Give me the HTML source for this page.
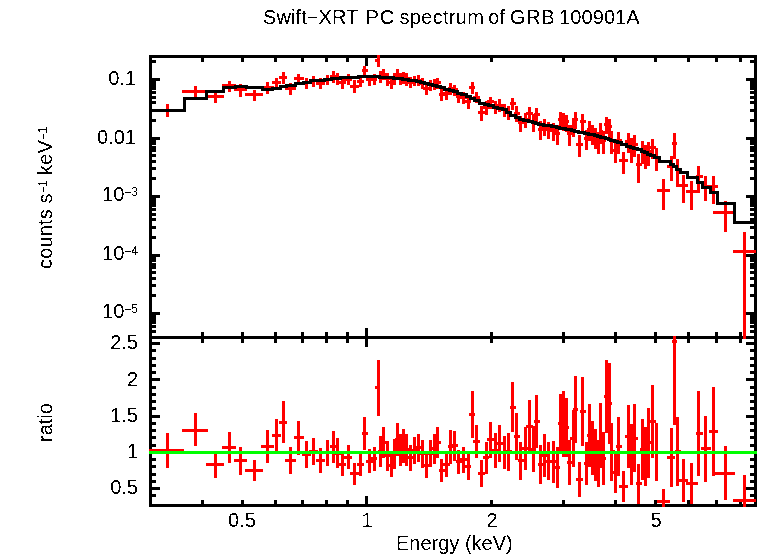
<!DOCTYPE html>
<html><head><meta charset="utf-8"><title>Swift-XRT PC spectrum of GRB 100901A</title>
<style>
html,body{margin:0;padding:0;background:#fff;}
body{width:758px;height:556px;position:relative;overflow:hidden;font-family:"Liberation Sans",sans-serif;color:#000;}
svg{position:absolute;left:0;top:0;}
.t{filter:url(#thr);position:absolute;white-space:pre;font-size:20px;line-height:20px;}
.r{text-align:right;width:100px;}
.c{text-align:center;width:100px;}
sup{font-size:12px;line-height:0;vertical-align:baseline;position:relative;top:-5px;}
.v{transform-origin:0 0;transform:rotate(-90deg);}
</style></head><body>
<svg width="758" height="556" viewBox="0 0 758 556" shape-rendering="crispEdges">
<defs><filter id="thr" x="0" y="0" width="100%" height="100%" color-interpolation-filters="sRGB"><feComponentTransfer><feFuncA type="discrete" tableValues="0 1"/></feComponentTransfer></filter></defs>
<g fill="#000"><rect x="149" y="55" width="608" height="3"/><rect x="149" y="336" width="608" height="3"/><rect x="149" y="504" width="608" height="3"/><rect x="149" y="55" width="3" height="452"/><rect x="754" y="55" width="3" height="452"/><rect x="201" y="58" width="3" height="4"/><rect x="201" y="332" width="3" height="4"/><rect x="201" y="339" width="3" height="4"/><rect x="201" y="500" width="3" height="4"/><rect x="241" y="58" width="3" height="4"/><rect x="241" y="332" width="3" height="4"/><rect x="241" y="339" width="3" height="4"/><rect x="241" y="500" width="3" height="4"/><rect x="274" y="58" width="3" height="4"/><rect x="274" y="332" width="3" height="4"/><rect x="274" y="339" width="3" height="4"/><rect x="274" y="500" width="3" height="4"/><rect x="301" y="58" width="3" height="4"/><rect x="301" y="332" width="3" height="4"/><rect x="301" y="339" width="3" height="4"/><rect x="301" y="500" width="3" height="4"/><rect x="325" y="58" width="3" height="4"/><rect x="325" y="332" width="3" height="4"/><rect x="325" y="339" width="3" height="4"/><rect x="325" y="500" width="3" height="4"/><rect x="346" y="58" width="3" height="4"/><rect x="346" y="332" width="3" height="4"/><rect x="346" y="339" width="3" height="4"/><rect x="346" y="500" width="3" height="4"/><rect x="365" y="58" width="3" height="8"/><rect x="365" y="328" width="3" height="8"/><rect x="365" y="339" width="3" height="8"/><rect x="365" y="496" width="3" height="8"/><rect x="490" y="58" width="3" height="4"/><rect x="490" y="332" width="3" height="4"/><rect x="490" y="339" width="3" height="4"/><rect x="490" y="500" width="3" height="4"/><rect x="562" y="58" width="3" height="4"/><rect x="562" y="332" width="3" height="4"/><rect x="562" y="339" width="3" height="4"/><rect x="562" y="500" width="3" height="4"/><rect x="614" y="58" width="3" height="4"/><rect x="614" y="332" width="3" height="4"/><rect x="614" y="339" width="3" height="4"/><rect x="614" y="500" width="3" height="4"/><rect x="654" y="58" width="3" height="4"/><rect x="654" y="332" width="3" height="4"/><rect x="654" y="339" width="3" height="4"/><rect x="654" y="500" width="3" height="4"/><rect x="687" y="58" width="3" height="4"/><rect x="687" y="332" width="3" height="4"/><rect x="687" y="339" width="3" height="4"/><rect x="687" y="500" width="3" height="4"/><rect x="715" y="58" width="3" height="4"/><rect x="715" y="332" width="3" height="4"/><rect x="715" y="339" width="3" height="4"/><rect x="715" y="500" width="3" height="4"/><rect x="739" y="58" width="3" height="4"/><rect x="739" y="332" width="3" height="4"/><rect x="739" y="339" width="3" height="4"/><rect x="739" y="500" width="3" height="4"/><rect x="152" y="330" width="4" height="3"/><rect x="750" y="330" width="4" height="3"/><rect x="152" y="325" width="4" height="3"/><rect x="750" y="325" width="4" height="3"/><rect x="152" y="321" width="4" height="3"/><rect x="750" y="321" width="4" height="3"/><rect x="152" y="318" width="4" height="3"/><rect x="750" y="318" width="4" height="3"/><rect x="152" y="315" width="4" height="3"/><rect x="750" y="315" width="4" height="3"/><rect x="152" y="312" width="8" height="3"/><rect x="746" y="312" width="8" height="3"/><rect x="152" y="294" width="4" height="3"/><rect x="750" y="294" width="4" height="3"/><rect x="152" y="284" width="4" height="3"/><rect x="750" y="284" width="4" height="3"/><rect x="152" y="277" width="4" height="3"/><rect x="750" y="277" width="4" height="3"/><rect x="152" y="271" width="4" height="3"/><rect x="750" y="271" width="4" height="3"/><rect x="152" y="266" width="4" height="3"/><rect x="750" y="266" width="4" height="3"/><rect x="152" y="263" width="4" height="3"/><rect x="750" y="263" width="4" height="3"/><rect x="152" y="259" width="4" height="3"/><rect x="750" y="259" width="4" height="3"/><rect x="152" y="256" width="4" height="3"/><rect x="750" y="256" width="4" height="3"/><rect x="152" y="254" width="8" height="3"/><rect x="746" y="254" width="8" height="3"/><rect x="152" y="236" width="4" height="3"/><rect x="750" y="236" width="4" height="3"/><rect x="152" y="226" width="4" height="3"/><rect x="750" y="226" width="4" height="3"/><rect x="152" y="218" width="4" height="3"/><rect x="750" y="218" width="4" height="3"/><rect x="152" y="213" width="4" height="3"/><rect x="750" y="213" width="4" height="3"/><rect x="152" y="208" width="4" height="3"/><rect x="750" y="208" width="4" height="3"/><rect x="152" y="204" width="4" height="3"/><rect x="750" y="204" width="4" height="3"/><rect x="152" y="201" width="4" height="3"/><rect x="750" y="201" width="4" height="3"/><rect x="152" y="198" width="4" height="3"/><rect x="750" y="198" width="4" height="3"/><rect x="152" y="195" width="8" height="3"/><rect x="746" y="195" width="8" height="3"/><rect x="152" y="177" width="4" height="3"/><rect x="750" y="177" width="4" height="3"/><rect x="152" y="167" width="4" height="3"/><rect x="750" y="167" width="4" height="3"/><rect x="152" y="160" width="4" height="3"/><rect x="750" y="160" width="4" height="3"/><rect x="152" y="154" width="4" height="3"/><rect x="750" y="154" width="4" height="3"/><rect x="152" y="149" width="4" height="3"/><rect x="750" y="149" width="4" height="3"/><rect x="152" y="146" width="4" height="3"/><rect x="750" y="146" width="4" height="3"/><rect x="152" y="142" width="4" height="3"/><rect x="750" y="142" width="4" height="3"/><rect x="152" y="139" width="4" height="3"/><rect x="750" y="139" width="4" height="3"/><rect x="152" y="137" width="8" height="3"/><rect x="746" y="137" width="8" height="3"/><rect x="152" y="119" width="4" height="3"/><rect x="750" y="119" width="4" height="3"/><rect x="152" y="109" width="4" height="3"/><rect x="750" y="109" width="4" height="3"/><rect x="152" y="101" width="4" height="3"/><rect x="750" y="101" width="4" height="3"/><rect x="152" y="96" width="4" height="3"/><rect x="750" y="96" width="4" height="3"/><rect x="152" y="91" width="4" height="3"/><rect x="750" y="91" width="4" height="3"/><rect x="152" y="87" width="4" height="3"/><rect x="750" y="87" width="4" height="3"/><rect x="152" y="84" width="4" height="3"/><rect x="750" y="84" width="4" height="3"/><rect x="152" y="81" width="4" height="3"/><rect x="750" y="81" width="4" height="3"/><rect x="152" y="78" width="8" height="3"/><rect x="746" y="78" width="8" height="3"/><rect x="152" y="60" width="4" height="3"/><rect x="750" y="60" width="4" height="3"/><rect x="152" y="494" width="4" height="3"/><rect x="750" y="494" width="4" height="3"/><rect x="152" y="487" width="8" height="3"/><rect x="746" y="487" width="8" height="3"/><rect x="152" y="480" width="4" height="3"/><rect x="750" y="480" width="4" height="3"/><rect x="152" y="473" width="4" height="3"/><rect x="750" y="473" width="4" height="3"/><rect x="152" y="465" width="4" height="3"/><rect x="750" y="465" width="4" height="3"/><rect x="152" y="458" width="4" height="3"/><rect x="750" y="458" width="4" height="3"/><rect x="152" y="451" width="8" height="3"/><rect x="746" y="451" width="8" height="3"/><rect x="152" y="444" width="4" height="3"/><rect x="750" y="444" width="4" height="3"/><rect x="152" y="436" width="4" height="3"/><rect x="750" y="436" width="4" height="3"/><rect x="152" y="429" width="4" height="3"/><rect x="750" y="429" width="4" height="3"/><rect x="152" y="422" width="4" height="3"/><rect x="750" y="422" width="4" height="3"/><rect x="152" y="415" width="8" height="3"/><rect x="746" y="415" width="8" height="3"/><rect x="152" y="407" width="4" height="3"/><rect x="750" y="407" width="4" height="3"/><rect x="152" y="400" width="4" height="3"/><rect x="750" y="400" width="4" height="3"/><rect x="152" y="393" width="4" height="3"/><rect x="750" y="393" width="4" height="3"/><rect x="152" y="386" width="4" height="3"/><rect x="750" y="386" width="4" height="3"/><rect x="152" y="378" width="8" height="3"/><rect x="746" y="378" width="8" height="3"/><rect x="152" y="371" width="4" height="3"/><rect x="750" y="371" width="4" height="3"/><rect x="152" y="364" width="4" height="3"/><rect x="750" y="364" width="4" height="3"/><rect x="152" y="357" width="4" height="3"/><rect x="750" y="357" width="4" height="3"/><rect x="152" y="349" width="4" height="3"/><rect x="750" y="349" width="4" height="3"/><rect x="152" y="342" width="8" height="3"/><rect x="746" y="342" width="8" height="3"/></g>
<g fill="#f00"><rect x="149" y="109" width="35" height="3"/><rect x="166" y="104" width="3" height="13"/><rect x="182" y="90" width="26" height="3"/><rect x="194" y="86" width="3" height="11"/><rect x="206" y="95" width="18" height="3"/><rect x="214" y="91" width="3" height="12"/><rect x="222" y="84" width="14" height="3"/><rect x="228" y="81" width="3" height="11"/><rect x="234" y="88" width="13" height="3"/><rect x="239" y="84" width="3" height="13"/><rect x="245" y="93" width="18" height="3"/><rect x="253" y="90" width="3" height="11"/><rect x="261" y="86" width="13" height="3"/><rect x="266" y="82" width="3" height="12"/><rect x="272" y="81" width="9" height="3"/><rect x="275" y="78" width="3" height="10"/><rect x="279" y="76" width="8" height="3"/><rect x="282" y="72" width="3" height="12"/><rect x="285" y="87" width="11" height="3"/><rect x="289" y="83" width="3" height="12"/><rect x="294" y="77" width="10" height="3"/><rect x="297" y="74" width="3" height="11"/><rect x="302" y="81" width="9" height="3"/><rect x="305" y="78" width="3" height="11"/><rect x="309" y="79" width="9" height="3"/><rect x="312" y="76" width="3" height="11"/><rect x="316" y="82" width="9" height="3"/><rect x="319" y="78" width="3" height="11"/><rect x="323" y="78" width="9" height="3"/><rect x="326" y="75" width="3" height="10"/><rect x="330" y="75" width="6" height="3"/><rect x="332" y="71" width="3" height="12"/><rect x="334" y="77" width="7" height="3"/><rect x="336" y="73" width="3" height="12"/><rect x="339" y="81" width="7" height="3"/><rect x="341" y="77" width="3" height="12"/><rect x="344" y="78" width="8" height="3"/><rect x="347" y="74" width="3" height="11"/><rect x="350" y="85" width="9" height="3"/><rect x="353" y="80" width="3" height="13"/><rect x="357" y="80" width="7" height="3"/><rect x="359" y="77" width="3" height="10"/><rect x="362" y="69" width="6" height="3"/><rect x="363" y="66" width="3" height="10"/><rect x="366" y="78" width="7" height="3"/><rect x="368" y="75" width="3" height="11"/><rect x="371" y="78" width="6" height="3"/><rect x="373" y="74" width="3" height="11"/><rect x="375" y="59" width="5" height="3"/><rect x="377" y="55" width="3" height="12"/><rect x="378" y="75" width="5" height="3"/><rect x="379" y="71" width="3" height="12"/><rect x="381" y="73" width="5" height="3"/><rect x="382" y="69" width="3" height="11"/><rect x="384" y="77" width="6" height="3"/><rect x="386" y="73" width="3" height="13"/><rect x="388" y="81" width="6" height="3"/><rect x="390" y="78" width="3" height="11"/><rect x="392" y="77" width="5" height="3"/><rect x="393" y="73" width="3" height="12"/><rect x="395" y="73" width="5" height="3"/><rect x="396" y="69" width="3" height="11"/><rect x="398" y="77" width="5" height="3"/><rect x="399" y="73" width="3" height="12"/><rect x="401" y="76" width="5" height="3"/><rect x="402" y="72" width="3" height="12"/><rect x="404" y="77" width="5" height="3"/><rect x="405" y="73" width="3" height="13"/><rect x="407" y="81" width="7" height="3"/><rect x="409" y="77" width="3" height="11"/><rect x="412" y="79" width="6" height="3"/><rect x="413" y="76" width="3" height="10"/><rect x="416" y="79" width="5" height="3"/><rect x="417" y="75" width="3" height="11"/><rect x="419" y="82" width="6" height="3"/><rect x="421" y="78" width="3" height="11"/><rect x="423" y="87" width="7" height="3"/><rect x="425" y="84" width="3" height="11"/><rect x="428" y="83" width="6" height="3"/><rect x="429" y="80" width="3" height="11"/><rect x="432" y="83" width="5" height="3"/><rect x="433" y="79" width="3" height="11"/><rect x="435" y="81" width="6" height="3"/><rect x="436" y="78" width="3" height="11"/><rect x="439" y="93" width="6" height="3"/><rect x="440" y="89" width="3" height="12"/><rect x="443" y="92" width="7" height="3"/><rect x="445" y="88" width="3" height="12"/><rect x="448" y="87" width="6" height="3"/><rect x="449" y="83" width="3" height="12"/><rect x="452" y="88" width="6" height="3"/><rect x="453" y="85" width="3" height="11"/><rect x="456" y="95" width="6" height="3"/><rect x="457" y="92" width="3" height="11"/><rect x="460" y="96" width="7" height="3"/><rect x="462" y="92" width="3" height="12"/><rect x="465" y="100" width="6" height="3"/><rect x="467" y="96" width="3" height="13"/><rect x="469" y="86" width="6" height="3"/><rect x="471" y="82" width="3" height="12"/><rect x="473" y="96" width="7" height="3"/><rect x="475" y="92" width="3" height="11"/><rect x="478" y="111" width="7" height="3"/><rect x="480" y="106" width="3" height="15"/><rect x="483" y="106" width="6" height="3"/><rect x="485" y="101" width="3" height="14"/><rect x="487" y="100" width="7" height="3"/><rect x="489" y="97" width="3" height="12"/><rect x="492" y="105" width="6" height="3"/><rect x="494" y="101" width="3" height="13"/><rect x="496" y="104" width="7" height="3"/><rect x="498" y="99" width="3" height="13"/><rect x="501" y="108" width="7" height="3"/><rect x="503" y="104" width="3" height="13"/><rect x="506" y="111" width="6" height="3"/><rect x="507" y="106" width="3" height="14"/><rect x="510" y="102" width="6" height="3"/><rect x="511" y="98" width="3" height="12"/><rect x="514" y="112" width="6" height="3"/><rect x="515" y="106" width="3" height="16"/><rect x="518" y="121" width="6" height="3"/><rect x="519" y="116" width="3" height="16"/><rect x="522" y="118" width="6" height="3"/><rect x="524" y="113" width="3" height="15"/><rect x="526" y="112" width="7" height="3"/><rect x="528" y="107" width="3" height="16"/><rect x="531" y="120" width="5" height="3"/><rect x="532" y="114" width="3" height="18"/><rect x="534" y="113" width="6" height="3"/><rect x="535" y="108" width="3" height="15"/><rect x="538" y="128" width="6" height="3"/><rect x="539" y="121" width="3" height="19"/><rect x="542" y="125" width="6" height="3"/><rect x="543" y="119" width="3" height="17"/><rect x="546" y="128" width="6" height="3"/><rect x="547" y="122" width="3" height="17"/><rect x="550" y="129" width="7" height="3"/><rect x="552" y="123" width="3" height="18"/><rect x="555" y="132" width="5" height="3"/><rect x="556" y="125" width="3" height="20"/><rect x="558" y="118" width="5" height="3"/><rect x="559" y="112" width="3" height="17"/><rect x="561" y="119" width="5" height="3"/><rect x="562" y="113" width="3" height="18"/><rect x="564" y="120" width="5" height="3"/><rect x="565" y="115" width="3" height="17"/><rect x="567" y="132" width="5" height="3"/><rect x="568" y="125" width="3" height="21"/><rect x="570" y="125" width="5" height="3"/><rect x="572" y="118" width="3" height="19"/><rect x="573" y="118" width="5" height="3"/><rect x="574" y="112" width="3" height="17"/><rect x="576" y="143" width="7" height="3"/><rect x="578" y="135" width="3" height="22"/><rect x="580" y="120" width="6" height="3"/><rect x="581" y="114" width="3" height="17"/><rect x="584" y="137" width="5" height="3"/><rect x="585" y="130" width="3" height="20"/><rect x="587" y="128" width="5" height="3"/><rect x="588" y="121" width="3" height="20"/><rect x="590" y="132" width="5" height="3"/><rect x="591" y="125" width="3" height="20"/><rect x="593" y="135" width="5" height="3"/><rect x="594" y="128" width="3" height="21"/><rect x="596" y="139" width="5" height="3"/><rect x="597" y="132" width="3" height="22"/><rect x="599" y="130" width="4" height="3"/><rect x="599" y="123" width="3" height="21"/><rect x="601" y="139" width="5" height="3"/><rect x="602" y="131" width="3" height="23"/><rect x="604" y="123" width="5" height="3"/><rect x="605" y="117" width="3" height="17"/><rect x="607" y="125" width="5" height="3"/><rect x="608" y="119" width="3" height="19"/><rect x="610" y="139" width="5" height="3"/><rect x="610" y="131" width="3" height="23"/><rect x="613" y="149" width="5" height="3"/><rect x="614" y="141" width="3" height="22"/><rect x="616" y="139" width="6" height="3"/><rect x="617" y="132" width="3" height="22"/><rect x="619" y="159" width="9" height="3"/><rect x="622" y="152" width="3" height="22"/><rect x="625" y="140" width="6" height="3"/><rect x="627" y="133" width="3" height="20"/><rect x="629" y="147" width="5" height="3"/><rect x="630" y="138" width="3" height="25"/><rect x="632" y="143" width="6" height="3"/><rect x="633" y="135" width="3" height="22"/><rect x="636" y="163" width="6" height="3"/><rect x="637" y="154" width="3" height="29"/><rect x="640" y="149" width="5" height="3"/><rect x="641" y="141" width="3" height="23"/><rect x="643" y="153" width="5" height="3"/><rect x="644" y="145" width="3" height="24"/><rect x="646" y="150" width="6" height="3"/><rect x="647" y="142" width="3" height="24"/><rect x="650" y="146" width="6" height="3"/><rect x="651" y="139" width="3" height="20"/><rect x="654" y="156" width="6" height="3"/><rect x="655" y="148" width="3" height="23"/><rect x="657" y="189" width="13" height="3"/><rect x="662" y="179" width="3" height="31"/><rect x="667" y="165" width="8" height="3"/><rect x="670" y="156" width="3" height="25"/><rect x="672" y="142" width="5" height="3"/><rect x="673" y="133" width="3" height="26"/><rect x="675" y="168" width="6" height="3"/><rect x="676" y="159" width="3" height="28"/><rect x="679" y="184" width="9" height="3"/><rect x="682" y="175" width="3" height="28"/><rect x="686" y="190" width="12" height="3"/><rect x="690" y="181" width="3" height="29"/><rect x="696" y="175" width="7" height="3"/><rect x="697" y="166" width="3" height="27"/><rect x="701" y="185" width="10" height="3"/><rect x="704" y="176" width="3" height="25"/><rect x="709" y="185" width="9" height="3"/><rect x="712" y="176" width="3" height="28"/><rect x="713" y="211" width="22" height="3"/><rect x="724" y="201" width="3" height="31"/><rect x="733" y="250" width="23" height="3"/><rect x="743" y="232" width="3" height="107"/><rect x="149" y="449" width="35" height="3"/><rect x="166" y="433" width="3" height="35"/><rect x="182" y="429" width="26" height="3"/><rect x="194" y="413" width="3" height="33"/><rect x="206" y="463" width="18" height="3"/><rect x="214" y="451" width="3" height="27"/><rect x="222" y="446" width="14" height="3"/><rect x="228" y="432" width="3" height="31"/><rect x="234" y="459" width="13" height="3"/><rect x="239" y="447" width="3" height="28"/><rect x="245" y="469" width="18" height="3"/><rect x="253" y="460" width="3" height="21"/><rect x="261" y="445" width="13" height="3"/><rect x="266" y="430" width="3" height="33"/><rect x="272" y="434" width="9" height="3"/><rect x="275" y="419" width="3" height="32"/><rect x="279" y="421" width="8" height="3"/><rect x="282" y="401" width="3" height="42"/><rect x="285" y="459" width="11" height="3"/><rect x="289" y="447" width="3" height="27"/><rect x="294" y="436" width="10" height="3"/><rect x="297" y="421" width="3" height="34"/><rect x="302" y="453" width="9" height="3"/><rect x="305" y="441" width="3" height="27"/><rect x="309" y="450" width="9" height="3"/><rect x="312" y="438" width="3" height="27"/><rect x="316" y="459" width="9" height="3"/><rect x="319" y="448" width="3" height="25"/><rect x="323" y="451" width="9" height="3"/><rect x="326" y="440" width="3" height="26"/><rect x="330" y="445" width="6" height="3"/><rect x="332" y="431" width="3" height="32"/><rect x="334" y="452" width="7" height="3"/><rect x="336" y="438" width="3" height="30"/><rect x="339" y="463" width="7" height="3"/><rect x="341" y="452" width="3" height="24"/><rect x="344" y="456" width="8" height="3"/><rect x="347" y="445" width="3" height="24"/><rect x="350" y="472" width="9" height="3"/><rect x="353" y="463" width="3" height="22"/><rect x="357" y="463" width="7" height="3"/><rect x="359" y="454" width="3" height="22"/><rect x="362" y="432" width="6" height="3"/><rect x="363" y="417" width="3" height="33"/><rect x="366" y="460" width="7" height="3"/><rect x="368" y="449" width="3" height="24"/><rect x="371" y="457" width="6" height="3"/><rect x="373" y="447" width="3" height="24"/><rect x="375" y="386" width="5" height="3"/><rect x="377" y="360" width="3" height="56"/><rect x="378" y="450" width="5" height="3"/><rect x="379" y="436" width="3" height="31"/><rect x="381" y="441" width="5" height="3"/><rect x="382" y="427" width="3" height="31"/><rect x="384" y="454" width="6" height="3"/><rect x="386" y="441" width="3" height="30"/><rect x="388" y="464" width="6" height="3"/><rect x="390" y="454" width="3" height="23"/><rect x="392" y="452" width="5" height="3"/><rect x="393" y="439" width="3" height="30"/><rect x="395" y="438" width="5" height="3"/><rect x="396" y="423" width="3" height="33"/><rect x="398" y="448" width="5" height="3"/><rect x="399" y="434" width="3" height="32"/><rect x="401" y="444" width="5" height="3"/><rect x="402" y="429" width="3" height="34"/><rect x="404" y="448" width="5" height="3"/><rect x="405" y="434" width="3" height="32"/><rect x="407" y="456" width="7" height="3"/><rect x="409" y="445" width="3" height="26"/><rect x="412" y="449" width="6" height="3"/><rect x="413" y="437" width="3" height="27"/><rect x="416" y="446" width="5" height="3"/><rect x="417" y="434" width="3" height="28"/><rect x="419" y="452" width="6" height="3"/><rect x="421" y="440" width="3" height="28"/><rect x="423" y="464" width="7" height="3"/><rect x="425" y="454" width="3" height="24"/><rect x="428" y="452" width="6" height="3"/><rect x="429" y="440" width="3" height="27"/><rect x="432" y="447" width="5" height="3"/><rect x="433" y="434" width="3" height="30"/><rect x="435" y="441" width="6" height="3"/><rect x="436" y="427" width="3" height="31"/><rect x="439" y="469" width="6" height="3"/><rect x="440" y="459" width="3" height="23"/><rect x="443" y="463" width="7" height="3"/><rect x="445" y="452" width="3" height="25"/><rect x="448" y="445" width="6" height="3"/><rect x="449" y="430" width="3" height="34"/><rect x="452" y="444" width="6" height="3"/><rect x="453" y="431" width="3" height="30"/><rect x="456" y="460" width="6" height="3"/><rect x="457" y="450" width="3" height="24"/><rect x="460" y="458" width="7" height="3"/><rect x="462" y="447" width="3" height="26"/><rect x="465" y="465" width="6" height="3"/><rect x="467" y="453" width="3" height="27"/><rect x="469" y="413" width="6" height="3"/><rect x="471" y="391" width="3" height="47"/><rect x="473" y="440" width="7" height="3"/><rect x="475" y="425" width="3" height="33"/><rect x="478" y="472" width="7" height="3"/><rect x="480" y="460" width="3" height="27"/><rect x="483" y="456" width="6" height="3"/><rect x="485" y="442" width="3" height="32"/><rect x="487" y="438" width="7" height="3"/><rect x="489" y="422" width="3" height="36"/><rect x="492" y="449" width="6" height="3"/><rect x="494" y="433" width="3" height="35"/><rect x="496" y="442" width="7" height="3"/><rect x="498" y="425" width="3" height="37"/><rect x="501" y="451" width="7" height="3"/><rect x="503" y="436" width="3" height="33"/><rect x="506" y="450" width="6" height="3"/><rect x="507" y="433" width="3" height="38"/><rect x="510" y="406" width="6" height="3"/><rect x="511" y="382" width="3" height="50"/><rect x="514" y="435" width="6" height="3"/><rect x="515" y="413" width="3" height="47"/><rect x="518" y="459" width="6" height="3"/><rect x="519" y="442" width="3" height="38"/><rect x="522" y="447" width="6" height="3"/><rect x="524" y="427" width="3" height="43"/><rect x="526" y="425" width="7" height="3"/><rect x="528" y="400" width="3" height="53"/><rect x="531" y="448" width="5" height="3"/><rect x="532" y="426" width="3" height="46"/><rect x="534" y="420" width="6" height="3"/><rect x="535" y="395" width="3" height="53"/><rect x="538" y="463" width="6" height="3"/><rect x="539" y="445" width="3" height="39"/><rect x="542" y="454" width="6" height="3"/><rect x="543" y="434" width="3" height="43"/><rect x="546" y="460" width="6" height="3"/><rect x="547" y="442" width="3" height="38"/><rect x="550" y="460" width="7" height="3"/><rect x="552" y="441" width="3" height="42"/><rect x="555" y="466" width="5" height="3"/><rect x="556" y="447" width="3" height="41"/><rect x="558" y="422" width="5" height="3"/><rect x="559" y="394" width="3" height="58"/><rect x="561" y="422" width="5" height="3"/><rect x="562" y="391" width="3" height="66"/><rect x="564" y="426" width="5" height="3"/><rect x="565" y="398" width="3" height="59"/><rect x="567" y="461" width="5" height="3"/><rect x="568" y="440" width="3" height="45"/><rect x="570" y="437" width="5" height="3"/><rect x="572" y="410" width="3" height="57"/><rect x="573" y="408" width="5" height="3"/><rect x="574" y="376" width="3" height="67"/><rect x="576" y="478" width="7" height="3"/><rect x="578" y="462" width="3" height="35"/><rect x="580" y="410" width="6" height="3"/><rect x="581" y="377" width="3" height="69"/><rect x="584" y="462" width="5" height="3"/><rect x="585" y="442" width="3" height="43"/><rect x="587" y="434" width="5" height="3"/><rect x="588" y="404" width="3" height="63"/><rect x="590" y="446" width="5" height="3"/><rect x="591" y="421" width="3" height="54"/><rect x="593" y="454" width="5" height="3"/><rect x="594" y="429" width="3" height="52"/><rect x="596" y="462" width="5" height="3"/><rect x="597" y="440" width="3" height="47"/><rect x="599" y="434" width="4" height="3"/><rect x="599" y="403" width="3" height="65"/><rect x="601" y="457" width="5" height="3"/><rect x="602" y="432" width="3" height="53"/><rect x="604" y="395" width="5" height="3"/><rect x="605" y="360" width="3" height="73"/><rect x="607" y="402" width="5" height="3"/><rect x="608" y="363" width="3" height="81"/><rect x="610" y="450" width="5" height="3"/><rect x="610" y="423" width="3" height="58"/><rect x="613" y="471" width="5" height="3"/><rect x="614" y="452" width="3" height="41"/><rect x="616" y="445" width="6" height="3"/><rect x="617" y="417" width="3" height="59"/><rect x="619" y="485" width="9" height="3"/><rect x="622" y="471" width="3" height="31"/><rect x="625" y="435" width="6" height="3"/><rect x="627" y="405" width="3" height="63"/><rect x="629" y="453" width="5" height="3"/><rect x="630" y="424" width="3" height="61"/><rect x="632" y="437" width="6" height="3"/><rect x="633" y="404" width="3" height="68"/><rect x="636" y="482" width="6" height="3"/><rect x="637" y="464" width="3" height="40"/><rect x="640" y="448" width="5" height="3"/><rect x="641" y="419" width="3" height="61"/><rect x="643" y="455" width="5" height="3"/><rect x="644" y="427" width="3" height="59"/><rect x="646" y="441" width="6" height="3"/><rect x="647" y="408" width="3" height="70"/><rect x="650" y="420" width="6" height="3"/><rect x="651" y="385" width="3" height="73"/><rect x="654" y="451" width="6" height="3"/><rect x="655" y="423" width="3" height="58"/><rect x="657" y="500" width="13" height="3"/><rect x="662" y="489" width="3" height="18"/><rect x="667" y="456" width="8" height="3"/><rect x="670" y="428" width="3" height="59"/><rect x="672" y="340" width="5" height="3"/><rect x="673" y="336" width="3" height="89"/><rect x="675" y="450" width="6" height="3"/><rect x="676" y="417" width="3" height="69"/><rect x="679" y="479" width="9" height="3"/><rect x="682" y="459" width="3" height="43"/><rect x="686" y="482" width="12" height="3"/><rect x="690" y="463" width="3" height="41"/><rect x="696" y="432" width="7" height="3"/><rect x="697" y="391" width="3" height="85"/><rect x="701" y="447" width="10" height="3"/><rect x="704" y="416" width="3" height="66"/><rect x="709" y="430" width="9" height="3"/><rect x="712" y="387" width="3" height="89"/><rect x="713" y="472" width="22" height="3"/><rect x="724" y="446" width="3" height="54"/><rect x="733" y="499" width="23" height="3"/><rect x="743" y="475" width="3" height="32"/></g>
<path d="M149 110.5 H184 V98.5 H206 V91.5 H223 V87.5 H235 V86.5 H246 V87.5 H262 V89.5 H272 V88.5 H280 V86.5 H286 V85.5 H295 V83.5 H303 V82.5 H310 V80.5 H317 V80.5 H324 V79.5 H331 V78.5 H336 V78.5 H340 V77.5 H346 V77.5 H352 V77.5 H358 V76.5 H363 V76.5 H367 V76.5 H372 V76.5 H376 V76.5 H379 V77.5 H382 V77.5 H385 V77.5 H389 V77.5 H393 V78.5 H396 V78.5 H399 V78.5 H402 V79.5 H405 V79.5 H408 V80.5 H412 V80.5 H416 V81.5 H420 V82.5 H424 V83.5 H428 V84.5 H432 V85.5 H436 V86.5 H440 V87.5 H444 V89.5 H449 V90.5 H453 V91.5 H457 V93.5 H461 V94.5 H466 V96.5 H470 V98.5 H474 V100.5 H479 V103.5 H484 V104.5 H488 V105.5 H493 V107.5 H497 V108.5 H502 V109.5 H506 V112.5 H510 V115.5 H515 V117.5 H519 V119.5 H523 V120.5 H528 V121.5 H532 V122.5 H535 V123.5 H538 V124.5 H543 V125.5 H547 V125.5 H551 V126.5 H556 V127.5 H559 V128.5 H562 V128.5 H565 V129.5 H568 V129.5 H571 V130.5 H574 V131.5 H578 V132.5 H581 V132.5 H584 V133.5 H588 V134.5 H591 V134.5 H594 V135.5 H597 V136.5 H600 V137.5 H602 V137.5 H605 V138.5 H608 V139.5 H610 V140.5 H614 V141.5 H617 V142.5 H621 V144.5 H626 V146.5 H630 V147.5 H633 V148.5 H637 V149.5 H641 V151.5 H644 V152.5 H647 V154.5 H650 V155.5 H654 V157.5 H659 V161.5 H670 V164.5 H673 V166.5 H676 V169.5 H680 V172.5 H687 V177.5 H697 V182.5 H702 V187.5 H710 V192.5 H717 V203.5 H734 V222.5 H757" fill="none" stroke="#000" stroke-width="3" stroke-linejoin="miter"/>
<rect x="149" y="451" width="608" height="3" fill="#0f0"/>
</svg>
<div class="t" style="left:263px;top:7px;letter-spacing:0.1px;">Swift−XRT</div>
<div class="t" style="left:365.5px;top:7px;letter-spacing:1px;">PC</div>
<div class="t" style="left:399.5px;top:7px;letter-spacing:0.3px;">spectrum</div>
<div class="t" style="left:488.3px;top:7px;">of</div>
<div class="t" style="left:510px;top:7px;letter-spacing:0.6px;">GRB</div>
<div class="t" style="left:559px;top:7px;letter-spacing:0.1px;">100901A</div>
<div class="t r" style="left:36px;top:68px;">0.1</div>
<div class="t r" style="left:36px;top:127px;">0.01</div>
<div class="t r" style="left:38px;top:184px;">10<sup>−3</sup></div>
<div class="t r" style="left:38px;top:243px;">10<sup>−4</sup></div>
<div class="t r" style="left:38px;top:301px;">10<sup>−5</sup></div>
<div class="t r" style="left:38px;top:332px;">2.5</div>
<div class="t r" style="left:38px;top:369px;">2</div>
<div class="t r" style="left:38px;top:405px;">1.5</div>
<div class="t r" style="left:38px;top:441px;">1</div>
<div class="t r" style="left:38px;top:477px;">0.5</div>
<div class="t c" style="left:192px;top:510px;">0.5</div>
<div class="t c" style="left:317px;top:510px;">1</div>
<div class="t c" style="left:442px;top:510px;">2</div>
<div class="t c" style="left:606px;top:510px;">5</div>
<div class="t" id="xl" style="left:396px;top:533px;">Energy (keV)</div>
<div class="t v" id="yl1" style="left:35px;top:268.5px;letter-spacing:0.15px;">counts s<sup style="letter-spacing:-0.5px">−1</sup> keV<sup style="letter-spacing:-0.5px">−1</sup></div>
<div class="t v" id="yl2" style="left:35px;top:442px;">ratio</div>
</body></html>
